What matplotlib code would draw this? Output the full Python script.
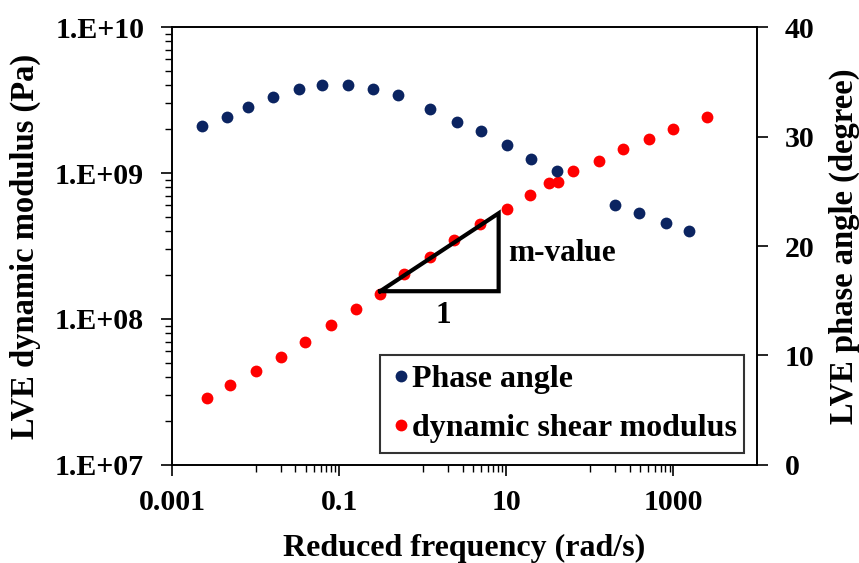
import numpy as np
import matplotlib.pyplot as plt
from matplotlib.ticker import FixedLocator, LogLocator, NullFormatter, FuncFormatter

# phase angle master curve (deg) vs reduced frequency (rad/s)
freq_phase = [0.00227, 0.00452, 0.0082, 0.0161, 0.0332, 0.0631, 0.129, 0.251,
              0.513, 1.23, 2.57, 4.98, 10.2, 19.8, 40.5, 202, 392, 809, 1540]
phase_angle = [30.96, 31.75, 32.67, 33.58, 34.34, 34.68, 34.68, 34.34,
               33.76, 32.48, 31.35, 30.50, 29.22, 27.95, 26.88, 23.74,
               22.99, 22.07, 21.37]

# dynamic shear modulus |G*| (Pa) vs reduced frequency (rad/s)
freq_mod = [0.00259, 0.00495, 0.0101, 0.0199, 0.0392, 0.0802, 0.158, 0.310,
            0.600, 1.21, 2.40, 4.89, 10.2, 19.4, 32.1, 41.6, 63.0, 127,
            248, 506, 991, 2535]
dyn_modulus = [2.89e7, 3.51e7, 4.39e7, 5.45e7, 6.98e7, 9.10e7, 1.18e8,
               1.49e8, 2.02e8, 2.67e8, 3.48e8, 4.48e8, 5.64e8, 7.06e8,
               8.49e8, 8.63e8, 1.03e9, 1.20e9, 1.45e9, 1.71e9, 2.00e9,
               2.43e9]

# slope triangle corners (rad/s, Pa)
tri_x = [0.31, 8.1, 8.1, 0.31]
tri_y = [1.55e8, 1.55e8, 5.3e8, 1.55e8]

navy = "#0b2461"
red = "#ff0000"

plt.rcParams["font.family"] = ["Liberation Serif", "DejaVu Serif"]
plt.rcParams["font.weight"] = "bold"

fig = plt.figure(figsize=(8.59, 5.63), dpi=100)
ax = fig.add_axes([0.2002, 0.1741, 0.6811, 0.7779])
ax2 = ax.twinx()

ax.set_xscale("log")
ax.set_yscale("log")
ax.set_xlim(1e-3, 1e4)
ax.set_ylim(1e7, 1e10)
ax2.set_ylim(0, 40)

p1, = ax2.plot(freq_phase, phase_angle, "o", color=navy, ms=8.5,
               mec="none", label="Phase angle")
p2, = ax.plot(freq_mod, dyn_modulus, "o", color=red, ms=8.5,
              mec="none", label="dynamic shear modulus")
ax.plot(tri_x, tri_y, color="black", lw=3, solid_joinstyle="miter", zorder=4)
ax.text(10.5, 2.8e8, "m-value", fontsize=22.5, fontweight="bold",
        va="center", ha="left")
ax.text(1.76, 1.05e8, "1", fontsize=22.5, fontweight="bold",
        va="center", ha="center")

# x axis: labels every two decades, minor ticks 1-9 on the odd decades
ax.xaxis.set_major_locator(FixedLocator([1e-3, 1e-1, 1e1, 1e3]))
minor_x = [k * 10.0 ** e for e in (-2, 0, 2) for k in range(1, 10)]
ax.xaxis.set_minor_locator(FixedLocator(minor_x))
ax.xaxis.set_minor_formatter(NullFormatter())
ax.xaxis.set_major_formatter(FuncFormatter(lambda v, p: f"{v:g}"))

ax.yaxis.set_major_locator(LogLocator(base=10, numticks=10))
ax.yaxis.set_minor_locator(LogLocator(base=10, subs=np.arange(2, 10), numticks=20))
ax.yaxis.set_minor_formatter(NullFormatter())
ax.yaxis.set_major_formatter(FuncFormatter(lambda v, p: f"1.E+{int(round(np.log10(v))):02d}"))
ax2.set_yticks([0, 10, 20, 30, 40])

ax.tick_params(axis="both", which="major", direction="out", length=8,
               width=1.2, labelsize=21.5)
ax.tick_params(axis="both", which="minor", direction="out", length=5, width=1)
ax.tick_params(axis="x", which="major", pad=9)
ax.tick_params(axis="y", which="major", pad=12)
ax2.tick_params(axis="y", direction="out", length=8, width=1.2,
                labelsize=21.5, pad=12)
for a in (ax, ax2):
    for s in a.spines.values():
        s.set_linewidth(1.2)

ax.set_xlabel("Reduced frequency (rad/s)", fontsize=23, fontweight="bold",
              labelpad=13)
ax.set_ylabel("LVE dynamic modulus (Pa)", fontsize=23.5, fontweight="bold",
              labelpad=10)
ax2.set_ylabel("LVE phase angle (degree)", fontsize=23.5, fontweight="bold",
               rotation=90, labelpad=10)

leg = ax2.legend(handles=[p1, p2], loc="lower left",
                 bbox_to_anchor=(0.3556, 0.0274, 0.6224, 0.231), mode="expand",
                 fontsize=23, frameon=True, fancybox=False, edgecolor="black",
                 handlelength=0.7, handletextpad=0.0, borderpad=0.3,
                 labelspacing=0.63, borderaxespad=0, markerscale=1.0)
leg.get_frame().set_linewidth(1.5)

fig.savefig("out.png", dpi=100)
